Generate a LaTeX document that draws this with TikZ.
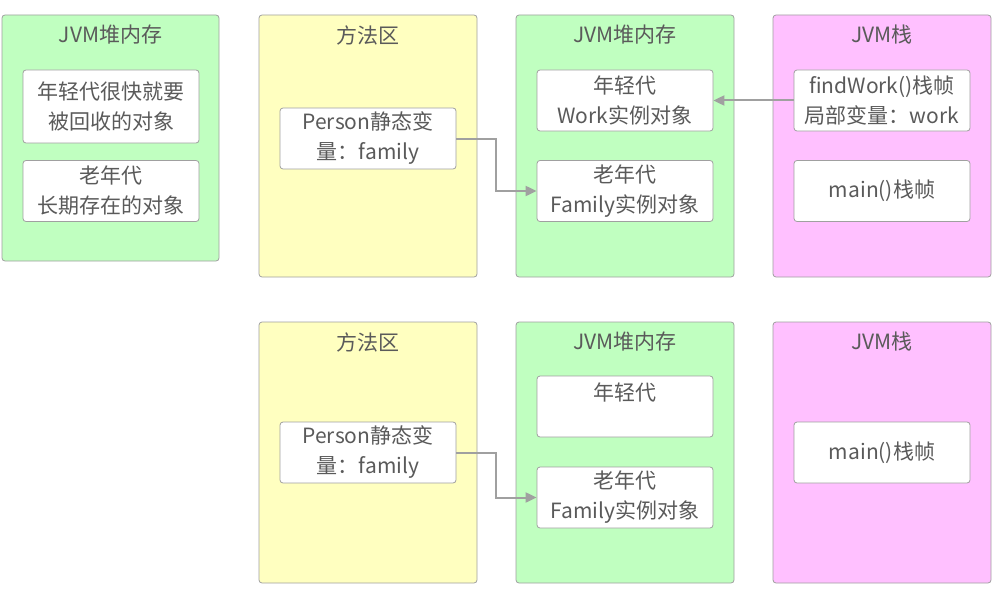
\documentclass[tikz,border=0pt]{standalone}
\usepackage{fontspec}
\setmainfont{Noto Sans CJK SC}
\usepackage{tikz}
\usetikzlibrary{arrows.meta, positioning}

\definecolor{heapgreen}{HTML}{C0FFC0}
\definecolor{methodyellow}{HTML}{FFFFC0}
\definecolor{stackpink}{HTML}{FFC0FF}
\definecolor{lineGray}{HTML}{A0A0A0}
\definecolor{textGray}{HTML}{5A5A5A}

\begin{document}
\begin{tikzpicture}[
    x=1pt, y=-1pt,
    every node/.style={font=\fontsize{21}{30}\selectfont, text=textGray},
    panel/.style={rectangle, rounded corners=3pt, draw=lineGray, line width=0.8pt, minimum width=218pt, minimum height=262pt, inner sep=0pt},
    heap/.style={panel, fill=heapgreen},
    method/.style={panel, fill=methodyellow},
    stack/.style={panel, fill=stackpink},
    title/.style={inner sep=0pt},
    obj/.style={rectangle, rounded corners=3pt, draw=lineGray, line width=0.8pt, fill=white, minimum width=176pt, minimum height=61pt, align=center, inner sep=0pt},
    link/.style={-{Triangle[length=11pt, width=10pt]}, draw=lineGray, line width=2pt}
]
\useasboundingbox (0,0) rectangle (992,599);

% --- Heap alone (left) ---
\node[heap, minimum width=217pt, minimum height=246pt] (heapA) at (110.5,138) {};
\node[title] (heapAt) at (110.5,35) {JVM堆内存};
\node[obj, minimum height=73pt] (young0) at (111,106.5) {年轻代很快就要\\被回收的对象};
\node[obj] (old0) at (111,191) {老年代\\长期存在的对象};

% --- Top row ---
\node[method] (methodB) at (368,146) {};
\node[title] (methodBt) at (368,35) {方法区};
\node[obj] (person1) at (368,138.5) {Person静态变\\量：family};

\node[heap] (heapB) at (625,146) {};
\node[title] (heapBt) at (625,35) {JVM堆内存};
\node[obj] (young1) at (625,100.5) {年轻代\\Work实例对象};
\node[obj] (old1) at (625,191) {老年代\\Family实例对象};

\node[stack] (stackB) at (882,146) {};
\node[title] (stackBt) at (882,35) {JVM栈};
\node[obj] (frame1) at (882,100.5) {findWork()栈帧\\局部变量：work};
\node[obj] (main1) at (882,191) {main()栈帧};

% --- Bottom row ---
\node[method, minimum height=261pt] (methodC) at (368,452.5) {};
\node[title] (methodCt) at (368,342) {方法区};
\node[obj] (person2) at (368,452.5) {Person静态变\\量：family};

\node[heap, minimum height=261pt] (heapC) at (625,452.5) {};
\node[title] (heapCt) at (625,342) {JVM堆内存};
\node[obj] (young2) at (625,406.5) {年轻代\\\mbox{}};
\node[obj] (old2) at (625,497.5) {老年代\\Family实例对象};

\node[stack, minimum height=261pt] (stackC) at (882,452.5) {};
\node[title] (stackCt) at (882,342) {JVM栈};
\node[obj] (main2) at (882,452.5) {main()栈帧};

% --- References ---
\draw[link] (person1.east) -- ++(40,0) |- (old1.west);
\draw[link] (frame1.west) -- (young1.east);
\draw[link] (person2.east) -- ++(40,0) |- (old2.west);

\end{tikzpicture}
\end{document}
